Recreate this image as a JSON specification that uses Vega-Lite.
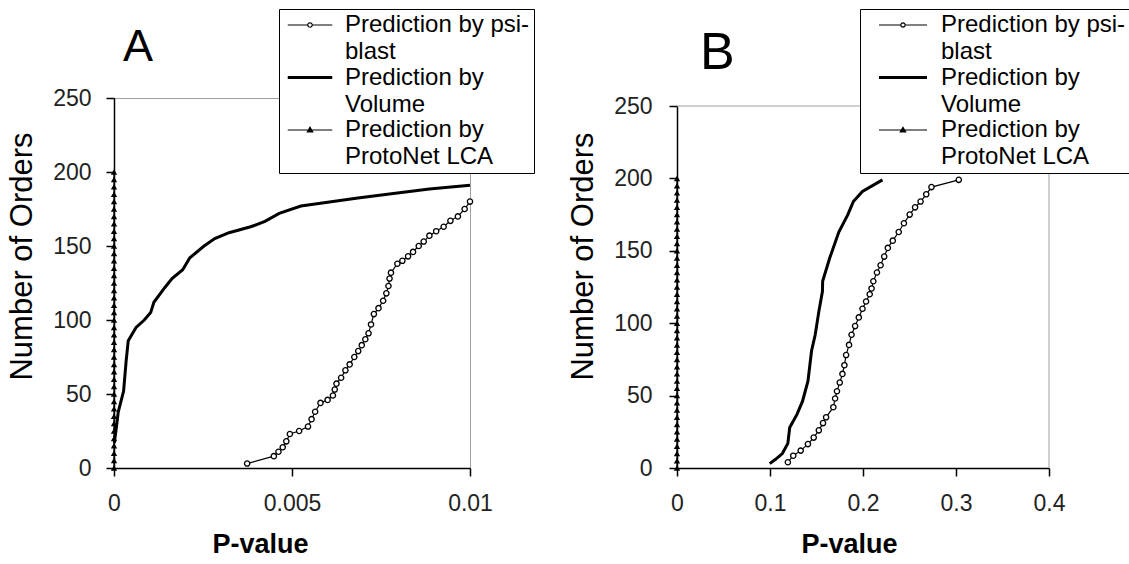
{
  "$schema": "https://vega.github.io/schema/vega-lite/v6.json",
  "padding": {"left": 6, "top": 8, "right": 0, "bottom": 0},
  "background": "white",
  "datasets": {
    "dA": [
      {"series": "Prediction by psi-blast", "p": 0.00374, "n": 3},
      {"series": "Prediction by psi-blast", "p": 0.00449, "n": 8},
      {"series": "Prediction by psi-blast", "p": 0.00462, "n": 11},
      {"series": "Prediction by psi-blast", "p": 0.00474, "n": 14},
      {"series": "Prediction by psi-blast", "p": 0.00484, "n": 18},
      {"series": "Prediction by psi-blast", "p": 0.00494, "n": 23},
      {"series": "Prediction by psi-blast", "p": 0.0052, "n": 25},
      {"series": "Prediction by psi-blast", "p": 0.00545, "n": 28},
      {"series": "Prediction by psi-blast", "p": 0.00555, "n": 33},
      {"series": "Prediction by psi-blast", "p": 0.00565, "n": 38},
      {"series": "Prediction by psi-blast", "p": 0.0058, "n": 44},
      {"series": "Prediction by psi-blast", "p": 0.006, "n": 46},
      {"series": "Prediction by psi-blast", "p": 0.00615, "n": 49},
      {"series": "Prediction by psi-blast", "p": 0.0062, "n": 53},
      {"series": "Prediction by psi-blast", "p": 0.00625, "n": 57},
      {"series": "Prediction by psi-blast", "p": 0.00638, "n": 61},
      {"series": "Prediction by psi-blast", "p": 0.0065, "n": 66},
      {"series": "Prediction by psi-blast", "p": 0.00662, "n": 70},
      {"series": "Prediction by psi-blast", "p": 0.00675, "n": 75},
      {"series": "Prediction by psi-blast", "p": 0.00686, "n": 79},
      {"series": "Prediction by psi-blast", "p": 0.00696, "n": 83},
      {"series": "Prediction by psi-blast", "p": 0.00706, "n": 87},
      {"series": "Prediction by psi-blast", "p": 0.00715, "n": 91},
      {"series": "Prediction by psi-blast", "p": 0.00722, "n": 97},
      {"series": "Prediction by psi-blast", "p": 0.0073, "n": 104},
      {"series": "Prediction by psi-blast", "p": 0.00743, "n": 108},
      {"series": "Prediction by psi-blast", "p": 0.00756, "n": 113},
      {"series": "Prediction by psi-blast", "p": 0.00765, "n": 118},
      {"series": "Prediction by psi-blast", "p": 0.00771, "n": 123},
      {"series": "Prediction by psi-blast", "p": 0.00774, "n": 128},
      {"series": "Prediction by psi-blast", "p": 0.00778, "n": 132},
      {"series": "Prediction by psi-blast", "p": 0.00796, "n": 138},
      {"series": "Prediction by psi-blast", "p": 0.0081, "n": 140},
      {"series": "Prediction by psi-blast", "p": 0.00826, "n": 143},
      {"series": "Prediction by psi-blast", "p": 0.0084, "n": 146},
      {"series": "Prediction by psi-blast", "p": 0.00856, "n": 150},
      {"series": "Prediction by psi-blast", "p": 0.0087, "n": 153},
      {"series": "Prediction by psi-blast", "p": 0.00886, "n": 157},
      {"series": "Prediction by psi-blast", "p": 0.00905, "n": 160},
      {"series": "Prediction by psi-blast", "p": 0.00926, "n": 163},
      {"series": "Prediction by psi-blast", "p": 0.00945, "n": 167},
      {"series": "Prediction by psi-blast", "p": 0.00966, "n": 170},
      {"series": "Prediction by psi-blast", "p": 0.00985, "n": 175},
      {"series": "Prediction by psi-blast", "p": 0.01, "n": 180},
      {"series": "Prediction by Volume", "p": 0.00001, "n": 17},
      {"series": "Prediction by Volume", "p": 0.00008, "n": 30},
      {"series": "Prediction by Volume", "p": 0.00012, "n": 38},
      {"series": "Prediction by Volume", "p": 0.00027, "n": 52},
      {"series": "Prediction by Volume", "p": 0.00034, "n": 72},
      {"series": "Prediction by Volume", "p": 0.0004, "n": 86},
      {"series": "Prediction by Volume", "p": 0.00062, "n": 95},
      {"series": "Prediction by Volume", "p": 0.00085, "n": 100},
      {"series": "Prediction by Volume", "p": 0.00103, "n": 105},
      {"series": "Prediction by Volume", "p": 0.00112, "n": 112},
      {"series": "Prediction by Volume", "p": 0.00143, "n": 122},
      {"series": "Prediction by Volume", "p": 0.00163, "n": 128},
      {"series": "Prediction by Volume", "p": 0.00193, "n": 134},
      {"series": "Prediction by Volume", "p": 0.00213, "n": 142},
      {"series": "Prediction by Volume", "p": 0.00253, "n": 150},
      {"series": "Prediction by Volume", "p": 0.00283, "n": 155},
      {"series": "Prediction by Volume", "p": 0.00323, "n": 159},
      {"series": "Prediction by Volume", "p": 0.00384, "n": 163},
      {"series": "Prediction by Volume", "p": 0.00424, "n": 166.6},
      {"series": "Prediction by Volume", "p": 0.00464, "n": 172},
      {"series": "Prediction by Volume", "p": 0.00525, "n": 177},
      {"series": "Prediction by Volume", "p": 0.00585, "n": 179},
      {"series": "Prediction by Volume", "p": 0.00685, "n": 182.5},
      {"series": "Prediction by Volume", "p": 0.00785, "n": 185.5},
      {"series": "Prediction by Volume", "p": 0.00886, "n": 188.5},
      {"series": "Prediction by Volume", "p": 0.01, "n": 191},
      {"series": "Prediction by ProtoNet LCA", "p": 0, "n": 0},
      {"series": "Prediction by ProtoNet LCA", "p": 0, "n": 5},
      {"series": "Prediction by ProtoNet LCA", "p": 0, "n": 10},
      {"series": "Prediction by ProtoNet LCA", "p": 0, "n": 15},
      {"series": "Prediction by ProtoNet LCA", "p": 0, "n": 20},
      {"series": "Prediction by ProtoNet LCA", "p": 0, "n": 25},
      {"series": "Prediction by ProtoNet LCA", "p": 0, "n": 30},
      {"series": "Prediction by ProtoNet LCA", "p": 0, "n": 35},
      {"series": "Prediction by ProtoNet LCA", "p": 0, "n": 40},
      {"series": "Prediction by ProtoNet LCA", "p": 0, "n": 45},
      {"series": "Prediction by ProtoNet LCA", "p": 0, "n": 50},
      {"series": "Prediction by ProtoNet LCA", "p": 0, "n": 55},
      {"series": "Prediction by ProtoNet LCA", "p": 0, "n": 60},
      {"series": "Prediction by ProtoNet LCA", "p": 0, "n": 65},
      {"series": "Prediction by ProtoNet LCA", "p": 0, "n": 70},
      {"series": "Prediction by ProtoNet LCA", "p": 0, "n": 75},
      {"series": "Prediction by ProtoNet LCA", "p": 0, "n": 80},
      {"series": "Prediction by ProtoNet LCA", "p": 0, "n": 85},
      {"series": "Prediction by ProtoNet LCA", "p": 0, "n": 90},
      {"series": "Prediction by ProtoNet LCA", "p": 0, "n": 95},
      {"series": "Prediction by ProtoNet LCA", "p": 0, "n": 100},
      {"series": "Prediction by ProtoNet LCA", "p": 0, "n": 105},
      {"series": "Prediction by ProtoNet LCA", "p": 0, "n": 110},
      {"series": "Prediction by ProtoNet LCA", "p": 0, "n": 115},
      {"series": "Prediction by ProtoNet LCA", "p": 0, "n": 120},
      {"series": "Prediction by ProtoNet LCA", "p": 0, "n": 125},
      {"series": "Prediction by ProtoNet LCA", "p": 0, "n": 130},
      {"series": "Prediction by ProtoNet LCA", "p": 0, "n": 135},
      {"series": "Prediction by ProtoNet LCA", "p": 0, "n": 140},
      {"series": "Prediction by ProtoNet LCA", "p": 0, "n": 145},
      {"series": "Prediction by ProtoNet LCA", "p": 0, "n": 150},
      {"series": "Prediction by ProtoNet LCA", "p": 0, "n": 155},
      {"series": "Prediction by ProtoNet LCA", "p": 0, "n": 160},
      {"series": "Prediction by ProtoNet LCA", "p": 0, "n": 165},
      {"series": "Prediction by ProtoNet LCA", "p": 0, "n": 170},
      {"series": "Prediction by ProtoNet LCA", "p": 0, "n": 175},
      {"series": "Prediction by ProtoNet LCA", "p": 0, "n": 180},
      {"series": "Prediction by ProtoNet LCA", "p": 0, "n": 185},
      {"series": "Prediction by ProtoNet LCA", "p": 0, "n": 190},
      {"series": "Prediction by ProtoNet LCA", "p": 0, "n": 195},
      {"series": "Prediction by ProtoNet LCA", "p": 0, "n": 200}
    ],
    "dB": [
      {"series": "Prediction by psi-blast", "p": 0.1192, "n": 4},
      {"series": "Prediction by psi-blast", "p": 0.125, "n": 8.5},
      {"series": "Prediction by psi-blast", "p": 0.133, "n": 12},
      {"series": "Prediction by psi-blast", "p": 0.1408, "n": 16.5},
      {"series": "Prediction by psi-blast", "p": 0.147, "n": 21},
      {"series": "Prediction by psi-blast", "p": 0.1525, "n": 26},
      {"series": "Prediction by psi-blast", "p": 0.157, "n": 31},
      {"series": "Prediction by psi-blast", "p": 0.1603, "n": 35},
      {"series": "Prediction by psi-blast", "p": 0.1681, "n": 42},
      {"series": "Prediction by psi-blast", "p": 0.17, "n": 48},
      {"series": "Prediction by psi-blast", "p": 0.172, "n": 53},
      {"series": "Prediction by psi-blast", "p": 0.175, "n": 59},
      {"series": "Prediction by psi-blast", "p": 0.1779, "n": 65},
      {"series": "Prediction by psi-blast", "p": 0.18, "n": 71},
      {"series": "Prediction by psi-blast", "p": 0.1818, "n": 78},
      {"series": "Prediction by psi-blast", "p": 0.185, "n": 85},
      {"series": "Prediction by psi-blast", "p": 0.1877, "n": 92},
      {"series": "Prediction by psi-blast", "p": 0.1915, "n": 98},
      {"series": "Prediction by psi-blast", "p": 0.1955, "n": 104},
      {"series": "Prediction by psi-blast", "p": 0.1995, "n": 110},
      {"series": "Prediction by psi-blast", "p": 0.2033, "n": 115},
      {"series": "Prediction by psi-blast", "p": 0.2072, "n": 120},
      {"series": "Prediction by psi-blast", "p": 0.2092, "n": 124},
      {"series": "Prediction by psi-blast", "p": 0.2111, "n": 129},
      {"series": "Prediction by psi-blast", "p": 0.215, "n": 135},
      {"series": "Prediction by psi-blast", "p": 0.2189, "n": 140},
      {"series": "Prediction by psi-blast", "p": 0.2228, "n": 146},
      {"series": "Prediction by psi-blast", "p": 0.2267, "n": 152},
      {"series": "Prediction by psi-blast", "p": 0.232, "n": 157},
      {"series": "Prediction by psi-blast", "p": 0.2384, "n": 163},
      {"series": "Prediction by psi-blast", "p": 0.244, "n": 169},
      {"series": "Prediction by psi-blast", "p": 0.2502, "n": 175},
      {"series": "Prediction by psi-blast", "p": 0.256, "n": 180},
      {"series": "Prediction by psi-blast", "p": 0.2619, "n": 184},
      {"series": "Prediction by psi-blast", "p": 0.268, "n": 189},
      {"series": "Prediction by psi-blast", "p": 0.2736, "n": 194},
      {"series": "Prediction by psi-blast", "p": 0.303, "n": 199},
      {"series": "Prediction by Volume", "p": 0.0997, "n": 3},
      {"series": "Prediction by Volume", "p": 0.106, "n": 6},
      {"series": "Prediction by Volume", "p": 0.1133, "n": 10},
      {"series": "Prediction by Volume", "p": 0.1192, "n": 17},
      {"series": "Prediction by Volume", "p": 0.1212, "n": 28},
      {"series": "Prediction by Volume", "p": 0.129, "n": 37},
      {"series": "Prediction by Volume", "p": 0.1349, "n": 46},
      {"series": "Prediction by Volume", "p": 0.1408, "n": 60},
      {"series": "Prediction by Volume", "p": 0.1447, "n": 81},
      {"series": "Prediction by Volume", "p": 0.1486, "n": 92},
      {"series": "Prediction by Volume", "p": 0.1525, "n": 108},
      {"series": "Prediction by Volume", "p": 0.1564, "n": 122},
      {"series": "Prediction by Volume", "p": 0.1566, "n": 129},
      {"series": "Prediction by Volume", "p": 0.1642, "n": 145},
      {"series": "Prediction by Volume", "p": 0.174, "n": 163},
      {"series": "Prediction by Volume", "p": 0.1837, "n": 175},
      {"series": "Prediction by Volume", "p": 0.1896, "n": 184},
      {"series": "Prediction by Volume", "p": 0.1994, "n": 191},
      {"series": "Prediction by Volume", "p": 0.2209, "n": 199},
      {"series": "Prediction by ProtoNet LCA", "p": 0, "n": 0},
      {"series": "Prediction by ProtoNet LCA", "p": 0, "n": 5},
      {"series": "Prediction by ProtoNet LCA", "p": 0, "n": 10},
      {"series": "Prediction by ProtoNet LCA", "p": 0, "n": 15},
      {"series": "Prediction by ProtoNet LCA", "p": 0, "n": 20},
      {"series": "Prediction by ProtoNet LCA", "p": 0, "n": 25},
      {"series": "Prediction by ProtoNet LCA", "p": 0, "n": 30},
      {"series": "Prediction by ProtoNet LCA", "p": 0, "n": 35},
      {"series": "Prediction by ProtoNet LCA", "p": 0, "n": 40},
      {"series": "Prediction by ProtoNet LCA", "p": 0, "n": 45},
      {"series": "Prediction by ProtoNet LCA", "p": 0, "n": 50},
      {"series": "Prediction by ProtoNet LCA", "p": 0, "n": 55},
      {"series": "Prediction by ProtoNet LCA", "p": 0, "n": 60},
      {"series": "Prediction by ProtoNet LCA", "p": 0, "n": 65},
      {"series": "Prediction by ProtoNet LCA", "p": 0, "n": 70},
      {"series": "Prediction by ProtoNet LCA", "p": 0, "n": 75},
      {"series": "Prediction by ProtoNet LCA", "p": 0, "n": 80},
      {"series": "Prediction by ProtoNet LCA", "p": 0, "n": 85},
      {"series": "Prediction by ProtoNet LCA", "p": 0, "n": 90},
      {"series": "Prediction by ProtoNet LCA", "p": 0, "n": 95},
      {"series": "Prediction by ProtoNet LCA", "p": 0, "n": 100},
      {"series": "Prediction by ProtoNet LCA", "p": 0, "n": 105},
      {"series": "Prediction by ProtoNet LCA", "p": 0, "n": 110},
      {"series": "Prediction by ProtoNet LCA", "p": 0, "n": 115},
      {"series": "Prediction by ProtoNet LCA", "p": 0, "n": 120},
      {"series": "Prediction by ProtoNet LCA", "p": 0, "n": 125},
      {"series": "Prediction by ProtoNet LCA", "p": 0, "n": 130},
      {"series": "Prediction by ProtoNet LCA", "p": 0, "n": 135},
      {"series": "Prediction by ProtoNet LCA", "p": 0, "n": 140},
      {"series": "Prediction by ProtoNet LCA", "p": 0, "n": 145},
      {"series": "Prediction by ProtoNet LCA", "p": 0, "n": 150},
      {"series": "Prediction by ProtoNet LCA", "p": 0, "n": 155},
      {"series": "Prediction by ProtoNet LCA", "p": 0, "n": 160},
      {"series": "Prediction by ProtoNet LCA", "p": 0, "n": 165},
      {"series": "Prediction by ProtoNet LCA", "p": 0, "n": 170},
      {"series": "Prediction by ProtoNet LCA", "p": 0, "n": 175},
      {"series": "Prediction by ProtoNet LCA", "p": 0, "n": 180},
      {"series": "Prediction by ProtoNet LCA", "p": 0, "n": 185},
      {"series": "Prediction by ProtoNet LCA", "p": 0, "n": 190},
      {"series": "Prediction by ProtoNet LCA", "p": 0, "n": 195},
      {"series": "Prediction by ProtoNet LCA", "p": 0, "n": 200}
    ]
  },
  "config": {
    "font": "Liberation Sans",
    "view": {"stroke": "#a0a0a0", "strokeWidth": 1},
    "axis": {
      "grid": false,
      "domainColor": "black",
      "domainWidth": 1.5,
      "tickColor": "black",
      "tickWidth": 1.5,
      "tickSize": 8,
      "labelFont": "Liberation Sans",
      "labelFontSize": 23,
      "labelColor": "#222",
      "labelFlush": false,
      "labelOverlap": false,
      "titleColor": "black",
      "titleFont": "Liberation Sans"
    },
    "legend": {"labelColor": "black"}
  },
  "hconcat": [
    {
      "width": 356,
      "height": 370,
      "title": {"text": "A", "fontSize": 45, "fontWeight": "normal", "anchor": "start", "frame": "group", "dx": 9, "dy": 65, "color": "black", "font": "Liberation Sans"},
      "data": {"name": "dA"},
      "encoding": {
        "x": {"field": "p", "type": "quantitative", "scale": {"domain": [0, 0.01], "nice": false, "zero": false},
          "axis": {"values": [0, 0.005, 0.01], "format": "~g", "title": "P-value", "titleFontSize": 27, "titleFontWeight": "bold", "labelPadding": 16, "titlePadding": 16, "titleX": 146}},
        "y": {"field": "n", "type": "quantitative", "scale": {"domain": [0, 250], "nice": false},
          "axis": {"values": [0, 50, 100, 150, 200, 250], "title": "Number of Orders", "titleFontSize": 31, "titleFontWeight": "normal", "labelPadding": 15, "titlePadding": 14, "titleY": 158}}
      },
      "layer": [
        {
          "transform": [{"filter": "datum.series === 'Prediction by psi-blast'"}],
          "mark": {"type": "line", "strokeWidth": 1.2},
          "encoding": {
            "order": {"field": "n", "type": "quantitative"},
            "color": {"field": "series", "type": "nominal",
              "scale": {"domain": ["Prediction by psi-blast", "Prediction by Volume", "Prediction by ProtoNet LCA"], "range": ["black", "black", "black"]},
              "legend": {
                "orient": "none", "legendX": 165, "legendY": -89, "title": null,
                "strokeColor": "black", "fillColor": "white", "padding": 4,
                "labelFont": "Liberation Sans", "labelFontSize": 24, "labelLimit": 400, "labelOffset": 23,
                "symbolSize": 1980, "symbolOffset": 15, "rowPadding": 1.5, "labelBaseline": "top",
                "labelExpr": "datum.label === 'Prediction by psi-blast' ? ['Prediction by psi-', 'blast'] : datum.label === 'Prediction by Volume' ? ['Prediction by', 'Volume'] : ['Prediction by', 'ProtoNet LCA']",
                "encode": {
                  "symbols": {"update": {
                    "shape": {"signal": "datum.value === 'Prediction by psi-blast' ? 'M-1,0H-0.1M0.1,0H1M-0.1,0A0.1,0.1,0,1,1,0.1,0A0.1,0.1,0,1,1,-0.1,0' : datum.value === 'Prediction by Volume' ? 'M-1,0H1' : 'M-1,0H1M-0.12,0.09L0,-0.12L0.12,0.09Z'"},
                    "fill": {"signal": "datum.value === 'Prediction by psi-blast' ? 'white' : datum.value === 'Prediction by Volume' ? 'transparent' : 'black'"},
                    "stroke": {"value": "black"},
                    "strokeWidth": {"signal": "datum.value === 'Prediction by Volume' ? 3 : 1.2"},
                    "opacity": {"value": 1},
                    "y": {"value": 12}
                  }},
                  "labels": {"update": {"y": {"value": 0}, "baseline": {"value": "top"}, "lineHeight": {"value": 27}}}
                }
              }
            }
          }
        },
        {
          "transform": [{"filter": "datum.series === 'Prediction by Volume'"}],
          "mark": {"type": "line", "strokeWidth": 3},
          "encoding": {
            "order": {"field": "n", "type": "quantitative"},
            "color": {"field": "series", "type": "nominal", "scale": {"domain": ["Prediction by psi-blast", "Prediction by Volume", "Prediction by ProtoNet LCA"], "range": ["black", "black", "black"]}}
          }
        },
        {
          "transform": [{"filter": "datum.series === 'Prediction by ProtoNet LCA'"}],
          "mark": {"type": "line", "strokeWidth": 1.2},
          "encoding": {
            "order": {"field": "n", "type": "quantitative"},
            "color": {"field": "series", "type": "nominal", "scale": {"domain": ["Prediction by psi-blast", "Prediction by Volume", "Prediction by ProtoNet LCA"], "range": ["black", "black", "black"]}}
          }
        },
        {
          "transform": [{"filter": "datum.series === 'Prediction by psi-blast'"}],
          "mark": {"type": "point", "shape": "circle", "filled": true, "fill": "white", "stroke": "black", "strokeWidth": 1.3, "size": 28, "opacity": 1}
        },
        {
          "transform": [{"filter": "datum.series === 'Prediction by ProtoNet LCA'"}],
          "mark": {"type": "point", "shape": "triangle-up", "filled": true, "color": "black", "size": 40, "opacity": 1}
        }
      ]
    },
    {
      "width": 372,
      "height": 370,
      "view": {"stroke": null},
      "title": {"text": "B", "fontSize": 52, "fontWeight": "normal", "anchor": "start", "frame": "group", "dx": 23, "dy": 75, "color": "black", "font": "Liberation Sans"},
      "layer": [
        {
          "data": {"values": [{}]},
          "mark": {"type": "rule", "color": "#a0a0a0", "strokeWidth": 1},
          "encoding": {
            "x": {"datum": 0, "type": "quantitative", "scale": {"domain": [0, 0.4], "nice": false, "zero": false},
              "axis": {"values": [0, 0.1, 0.2, 0.3, 0.4], "format": "~g", "title": "P-value", "titleFontSize": 27, "titleFontWeight": "bold", "labelPadding": 16, "titlePadding": 16, "titleX": 172}},
            "x2": {"datum": 0.4},
            "y": {"datum": 250, "type": "quantitative", "scale": {"domain": [0, 250], "nice": false, "range": [370, 8]},
              "axis": {"values": [0, 50, 100, 150, 200, 250], "title": "Number of Orders", "titleFontSize": 31, "titleFontWeight": "normal", "labelPadding": 17, "titlePadding": 14, "titleY": 158}}
          }
        },
        {
          "data": {"values": [{}]},
          "mark": {"type": "rule", "color": "#a0a0a0", "strokeWidth": 1},
          "encoding": {
            "x": {"datum": 0.4, "type": "quantitative", "scale": {"domain": [0, 0.4], "nice": false, "zero": false},
              "axis": {"values": [0, 0.1, 0.2, 0.3, 0.4], "format": "~g", "title": "P-value", "titleFontSize": 27, "titleFontWeight": "bold", "labelPadding": 16, "titlePadding": 16, "titleX": 172}},
            "y": {"datum": 0, "type": "quantitative", "scale": {"domain": [0, 250], "nice": false, "range": [370, 8]},
              "axis": {"values": [0, 50, 100, 150, 200, 250], "title": "Number of Orders", "titleFontSize": 31, "titleFontWeight": "normal", "labelPadding": 17, "titlePadding": 14, "titleY": 158}},
            "y2": {"datum": 250}
          }
        },
        {
          "data": {"name": "dB"},
          "encoding": {
            "x": {"field": "p", "type": "quantitative", "scale": {"domain": [0, 0.4], "nice": false, "zero": false},
              "axis": {"values": [0, 0.1, 0.2, 0.3, 0.4], "format": "~g", "title": "P-value", "titleFontSize": 27, "titleFontWeight": "bold", "labelPadding": 16, "titlePadding": 16, "titleX": 172}},
            "y": {"field": "n", "type": "quantitative", "scale": {"domain": [0, 250], "nice": false, "range": [370, 8]},
              "axis": {"values": [0, 50, 100, 150, 200, 250], "title": "Number of Orders", "titleFontSize": 31, "titleFontWeight": "normal", "labelPadding": 17, "titlePadding": 14, "titleY": 158}}
          },
          "layer": [
            {
              "transform": [{"filter": "datum.series === 'Prediction by psi-blast'"}],
              "mark": {"type": "line", "strokeWidth": 1.2},
              "encoding": {
                "order": {"field": "n", "type": "quantitative"},
                "color": {"field": "series", "type": "nominal",
                  "scale": {"domain": ["Prediction by psi-blast", "Prediction by Volume", "Prediction by ProtoNet LCA"], "range": ["black", "black", "black"]},
                  "legend": {
                    "orient": "none", "legendX": 183, "legendY": -89, "title": null,
                    "strokeColor": "black", "fillColor": "white", "padding": 4,
                    "labelFont": "Liberation Sans", "labelFontSize": 24, "labelLimit": 400, "labelOffset": 26,
                    "symbolSize": 2304, "symbolOffset": 27, "rowPadding": 1.5, "labelBaseline": "top",
                    "labelExpr": "datum.label === 'Prediction by psi-blast' ? ['Prediction by psi-', 'blast'] : datum.label === 'Prediction by Volume' ? ['Prediction by', 'Volume'] : ['Prediction by', 'ProtoNet LCA']",
                    "encode": {
                      "symbols": {"update": {
                        "shape": {"signal": "datum.value === 'Prediction by psi-blast' ? 'M-1,0H-0.09M0.09,0H1M-0.09,0A0.09,0.09,0,1,1,0.09,0A0.09,0.09,0,1,1,-0.09,0' : datum.value === 'Prediction by Volume' ? 'M-1,0H1' : 'M-1,0H1M-0.11,0.08L0,-0.11L0.11,0.08Z'"},
                        "fill": {"signal": "datum.value === 'Prediction by psi-blast' ? 'white' : datum.value === 'Prediction by Volume' ? 'transparent' : 'black'"},
                        "stroke": {"value": "black"},
                        "strokeWidth": {"signal": "datum.value === 'Prediction by Volume' ? 3 : 1.2"},
                        "opacity": {"value": 1},
                        "y": {"value": 12}
                      }},
                      "labels": {"update": {"y": {"value": 0}, "baseline": {"value": "top"}, "lineHeight": {"value": 27}}}
                    }
                  }
                }
              }
            },
            {
              "transform": [{"filter": "datum.series === 'Prediction by Volume'"}],
              "mark": {"type": "line", "strokeWidth": 3},
              "encoding": {
                "order": {"field": "n", "type": "quantitative"},
                "color": {"field": "series", "type": "nominal", "scale": {"domain": ["Prediction by psi-blast", "Prediction by Volume", "Prediction by ProtoNet LCA"], "range": ["black", "black", "black"]}}
              }
            },
            {
              "transform": [{"filter": "datum.series === 'Prediction by ProtoNet LCA'"}],
              "mark": {"type": "line", "strokeWidth": 1.2},
              "encoding": {
                "order": {"field": "n", "type": "quantitative"},
                "color": {"field": "series", "type": "nominal", "scale": {"domain": ["Prediction by psi-blast", "Prediction by Volume", "Prediction by ProtoNet LCA"], "range": ["black", "black", "black"]}}
              }
            },
            {
              "transform": [{"filter": "datum.series === 'Prediction by psi-blast'"}],
              "mark": {"type": "point", "shape": "circle", "filled": true, "fill": "white", "stroke": "black", "strokeWidth": 1.3, "size": 28, "opacity": 1}
            },
            {
              "transform": [{"filter": "datum.series === 'Prediction by ProtoNet LCA'"}],
              "mark": {"type": "point", "shape": "triangle-up", "filled": true, "color": "black", "size": 40, "opacity": 1}
            }
          ]
        }
      ]
    }
  ],
  "spacing": 207,
  "bounds": "flush",
  "resolve": {"scale": {"color": "independent"}, "legend": {"color": "independent"}}
}
